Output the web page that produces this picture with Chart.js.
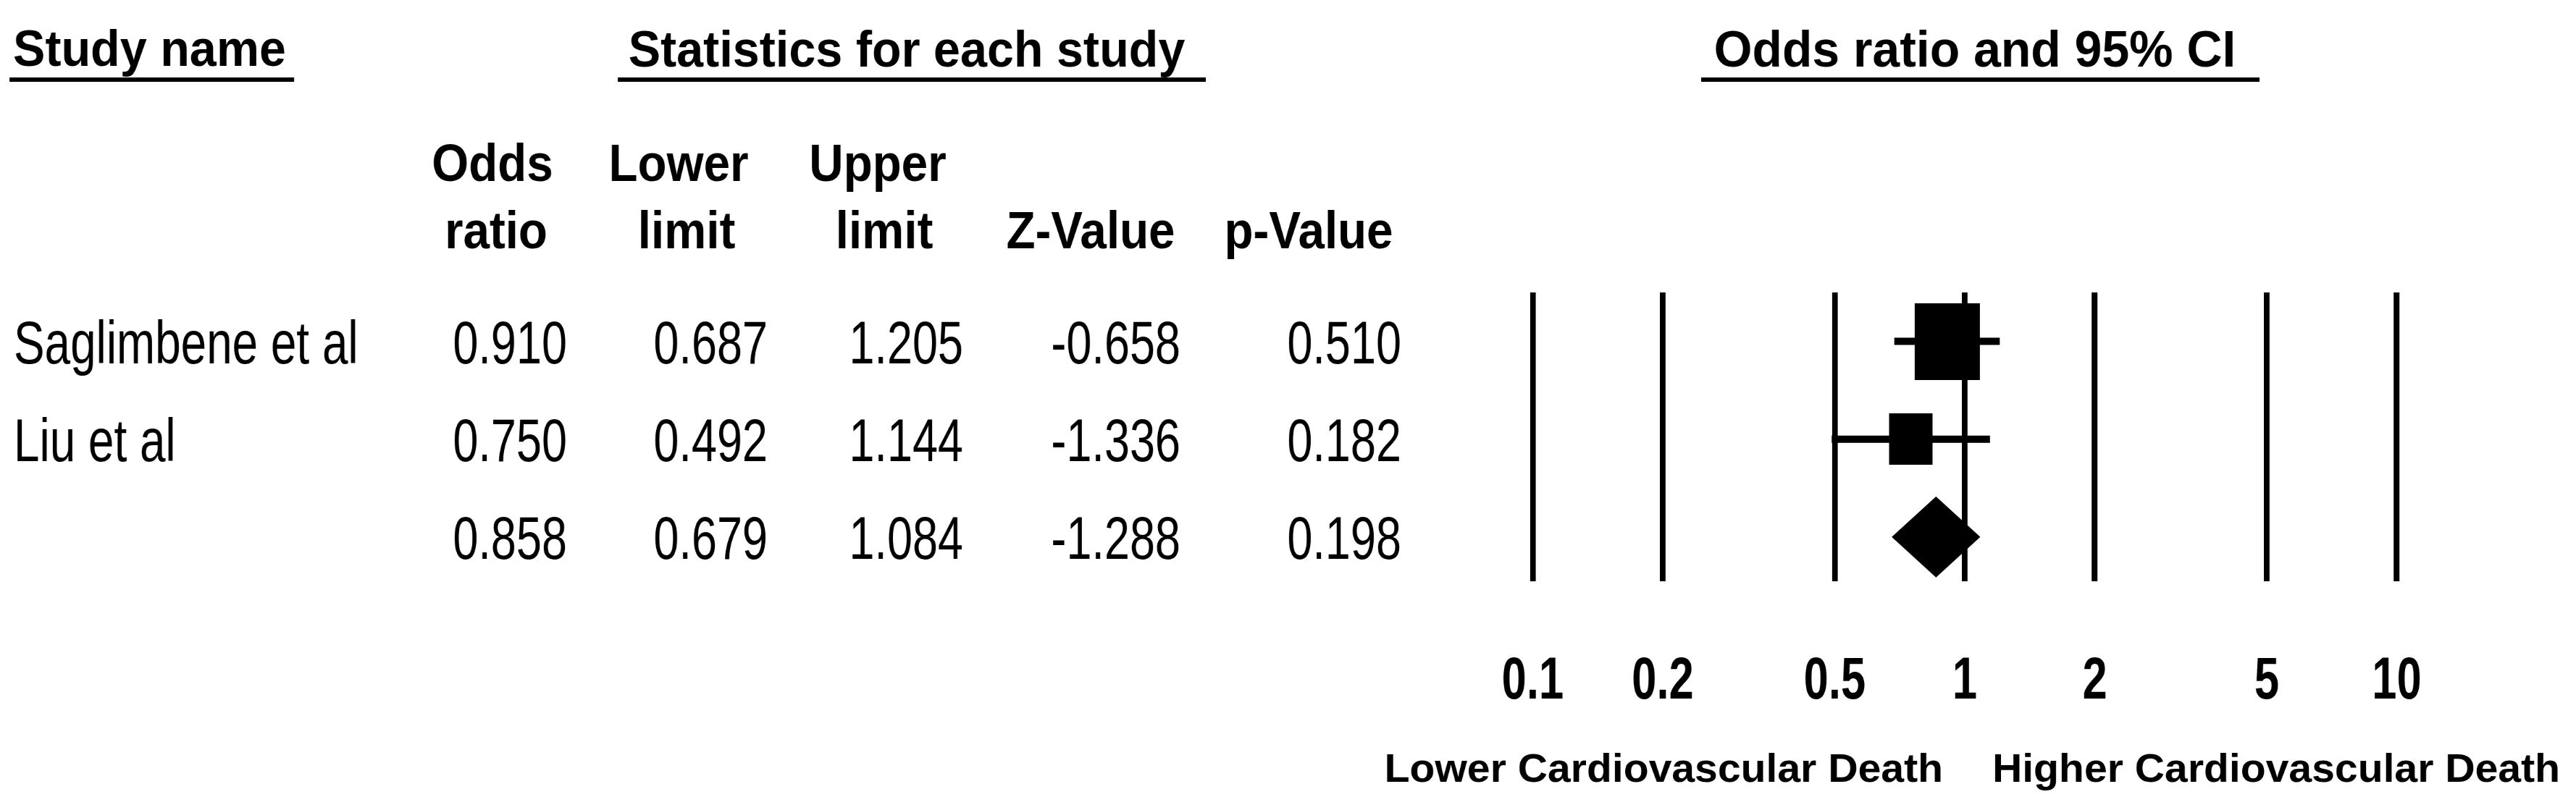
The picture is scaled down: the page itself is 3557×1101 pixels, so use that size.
<!DOCTYPE html>
<html><head><meta charset="utf-8">
<script src="https://cdn.jsdelivr.net/npm/chart.js@4.4.1/dist/chart.umd.min.js"></script>
<style>
html,body{margin:0;padding:0;background:#fff;overflow:hidden;width:3557px;height:1101px;}
#wrap{width:4743px;height:1101px;transform:scaleX(0.75);transform-origin:0 0;}
canvas{display:block;}
</style></head><body>
<div id="wrap"><canvas id="c" width="4743" height="1101"></canvas></div>
<script>
// ---- data ----
const studyNames = ['Saglimbene et al', 'Liu et al', ''];
const oddsRatio = [0.910, 0.750, 0.858];
const lowerLimit = [0.687, 0.492, 0.679];
const upperLimit = [1.205, 1.144, 1.084];
const zValue = [-0.658, -1.336, -1.288];
const pValue = [0.510, 0.182, 0.198];
const isSummary = [false, false, true];
const tickValues = [0.1, 0.2, 0.5, 1, 2, 5, 10];
const tickLabels = ['0.1', '0.2', '0.5', '1', '2', '5', '10'];
const headerLabels = ['Study name', 'Statistics for each study', 'Odds ratio and 95% CI'];
const columnHeaderTop = ['Odds', 'Lower', 'Upper', '', ''];
const columnHeaderBottom = ['ratio', 'limit', 'limit', 'Z-Value', 'p-Value'];
const effectLabels = ['Lower Cardiovascular Death', 'Higher Cardiovascular Death'];

// ---- style / layout ----
const SX = 0.75;                 // horizontal compression of the whole picture
const L = v => v / SX;           // picture px -> canvas px
const FONT = "'Liberation Sans', Arial, sans-serif";
const DIAMOND_HALF = 0.41;
const BOX_MAX_H = 106;

function txt(ctx, s, xFull, y, font, align, ratio) {
  ctx.save();
  ctx.font = font;
  ctx.fillStyle = '#000';
  ctx.textAlign = align;
  ctx.textBaseline = 'alphabetic';
  ctx.translate(L(xFull), y);
  ctx.scale(ratio / SX, 1);
  ctx.fillText(s, 0, 0);
  ctx.restore();
}
function underline(ctx, x0, x1, y) {
  ctx.fillStyle = '#000';
  ctx.fillRect(L(x0), y - 3, L(x1) - L(x0), 6);
}

const tablePlugin = {
  id: 'table',
  afterDraw(chart) {
    const ctx = chart.ctx, ys = chart.scales.y, xs = chart.scales.x;
    const hf = `bold 70px ${FONT}`;
    txt(ctx, headerLabels[0], 18, 91, hf, 'left', 0.95);
    txt(ctx, headerLabels[1], 1252, 92, hf, 'center', 0.95);
    txt(ctx, headerLabels[2], 2727, 92, hf, 'center', 0.97);
    underline(ctx, 13, 406, 110);
    underline(ctx, 853, 1665, 110);
    underline(ctx, 2349, 3120, 110);

    const cf = `bold 72px ${FONT}`;
    const topCenters = [680, 937, 1212, 0, 0];
    const botCenters = [685, 948, 1221, 1506, 1807];
    columnHeaderTop.forEach((s, j) => { if (s) txt(ctx, s, topCenters[j], 250, cf, 'center', 0.91); });
    columnHeaderBottom.forEach((s, j) => txt(ctx, s, botCenters[j], 343, cf, 'center', 0.91));

    const df = `84px ${FONT}`;
    const colRight = [783, 1060, 1330, 1630, 1935];
    studyNames.forEach((name, i) => {
      const yp = ys.getPixelForValue(i + 1) + 0.358 * 84;
      if (name) txt(ctx, name, 19, yp, df, 'left', 0.76);
      const vals = [oddsRatio[i], lowerLimit[i], upperLimit[i], zValue[i], pValue[i]];
      vals.forEach((v, j) => txt(ctx, v.toFixed(3), colRight[j], yp, df, 'right', 0.75));
    });

    const ef = `bold 56px ${FONT}`;
    const x1 = xs.getPixelForValue(1) * SX;
    txt(ctx, effectLabels[0], x1 - 30, 1080, ef, 'right', 1.02);
    txt(ctx, effectLabels[1], x1 + 38, 1080, ef, 'left', 1.02);
  }
};

// ---- marks ----
const weights = lowerLimit.map((lo, i) => {
  const se = (Math.log(upperLimit[i]) - Math.log(lo)) / 3.92;
  return 1 / (se * se);
});
const maxW = Math.max(...weights.filter((_, i) => !isSummary[i]));
function boxImage(h) {
  const c = document.createElement('canvas');
  c.width = Math.round(h * 1.13);
  c.height = Math.round(h);
  const g = c.getContext('2d');
  g.fillStyle = '#000';
  g.fillRect(0, 0, c.width, c.height);
  return c;
}

const datasets = [];
const studyIdx = studyNames.map((_, i) => i).filter(i => !isSummary[i]);
studyIdx.forEach(i => {
  datasets.push({
    label: 'CI ' + studyNames[i],
    data: [{x: lowerLimit[i], y: i + 1}, {x: upperLimit[i], y: i + 1}],
    showLine: true, borderColor: '#000', borderWidth: 10, borderCapStyle: 'butt',
    pointRadius: 0, pointHoverRadius: 0
  });
});
datasets.push({
  label: 'Odds ratio',
  data: studyIdx.map(i => ({x: oddsRatio[i], y: i + 1})),
  pointStyle: studyIdx.map(i => boxImage(BOX_MAX_H * Math.sqrt(weights[i] / maxW))),
  pointRadius: 10, showLine: false
});
studyNames.forEach((_, i) => {
  if (!isSummary[i]) return;
  const r = i + 1;
  datasets.push({
    label: 'Summary',
    data: [{x: lowerLimit[i], y: r}, {x: oddsRatio[i], y: r - DIAMOND_HALF},
           {x: upperLimit[i], y: r}, {x: oddsRatio[i], y: r + DIAMOND_HALF},
           {x: lowerLimit[i], y: r}],
    showLine: true, fill: 'shape', backgroundColor: '#000', borderColor: '#000',
    borderWidth: 1, pointRadius: 0, tension: 0
  });
});

new Chart(document.getElementById('c'), {
  type: 'scatter',
  data: { datasets },
  options: {
    responsive: false, animation: false, devicePixelRatio: 1,
    layout: { padding: { left: L(2116.4), right: 4743 - L(3309.5), top: 404, bottom: 18 } },
    plugins: { legend: { display: false }, tooltip: { enabled: false } },
    scales: {
      x: {
        type: 'logarithmic', min: 0.1, max: 10, position: 'bottom',
        afterBuildTicks: axis => { axis.ticks = tickValues.map(v => ({ value: v })); },
        ticks: {
          autoSkip: false, maxRotation: 0, minRotation: 0, padding: 91, color: '#000',
          font: { family: FONT, size: 82, weight: 'bold' },
          callback: (v, i) => tickLabels[i]
        },
        grid: { color: '#000', lineWidth: 10.5, drawTicks: false },
        border: { display: false }
      },
      y: { type: 'linear', min: 0.5, max: 3.45, reverse: true, display: false }
    }
  },
  plugins: [tablePlugin]
});
</script>
</body></html>
